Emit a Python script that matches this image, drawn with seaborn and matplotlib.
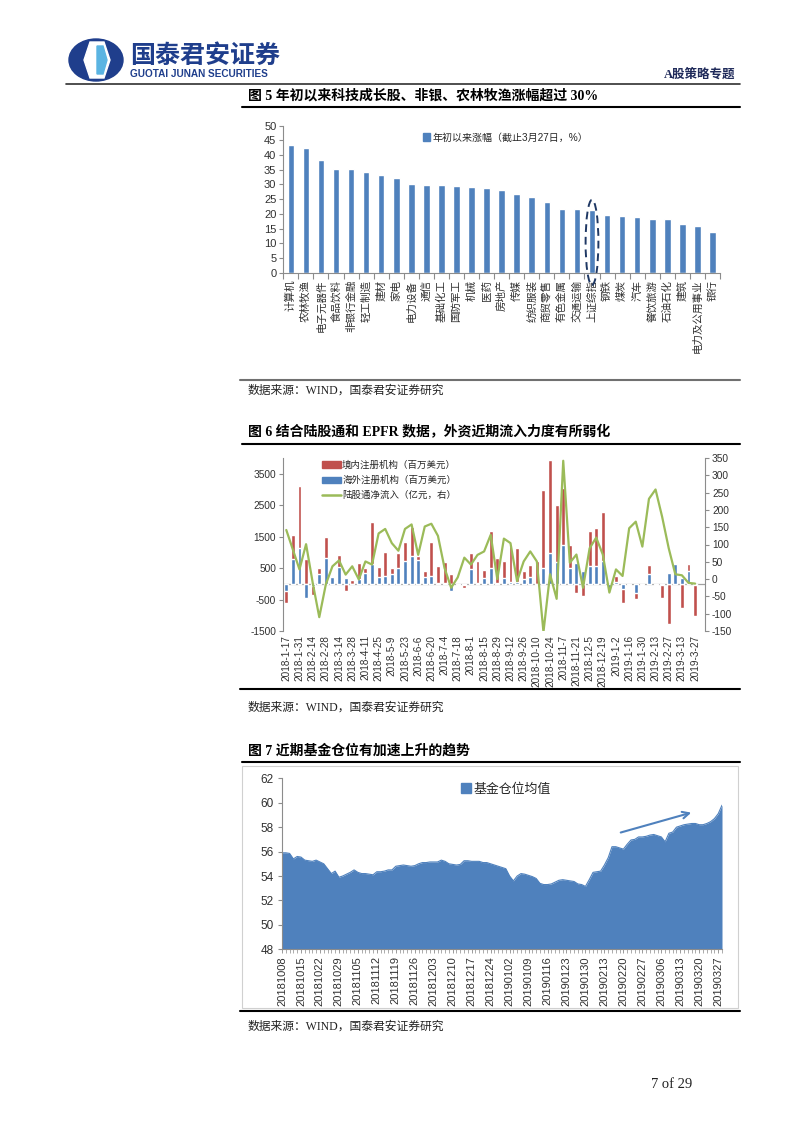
import numpy as np
import pandas as pd
import matplotlib
matplotlib.use('Agg')
import matplotlib.pyplot as plt
import seaborn as sns
from matplotlib.patches import Patch, Ellipse, Rectangle, Polygon
from matplotlib.lines import Line2D

# ---------------- data ----------------
industries = ['计算机', '农林牧渔', '电子元器件', '食品饮料', '非银行金融', '轻工制造', '建材', '家电',
              '电力设备', '通信', '基础化工', '国防军工', '机械', '医药', '房地产', '传媒', '纺织服装',
              '商贸零售', '有色金属', '交通运输', '上证综指', '钢铁', '煤炭', '汽车', '餐饮旅游',
              '石油石化', '建筑', '电力及公用事业', '银行']
ytd_gain = [43.3, 42.5, 38.5, 35.2, 35.2, 34.2, 33.2, 32.2, 30.3, 29.8, 29.8, 29.6, 29.2, 28.9,
            28.0, 26.8, 25.8, 23.9, 21.8, 21.6, 21.2, 19.7, 19.3, 19.1, 18.3, 18.1, 16.5, 15.8, 13.8]

week_labels = ['2018-1-17', '2018-1-31', '2018-2-14', '2018-2-28', '2018-3-14', '2018-3-28',
               '2018-4-11', '2018-4-25', '2018-5-9', '2018-5-23', '2018-6-6', '2018-6-20',
               '2018-7-4', '2018-7-18', '2018-8-1', '2018-8-15', '2018-8-29', '2018-9-12',
               '2018-9-26', '2018-10-10', '2018-10-24', '2018-11-7', '2018-11-21', '2018-12-5',
               '2018-12-19', '2019-1-2', '2019-1-16', '2019-1-30', '2019-2-13', '2019-2-27',
               '2019-3-13', '2019-3-27']
domestic = [-600, 1550, 3100, 780, -350, 500, 1490, 220, 920, -240, 110, 670, 510, 1950, 540, 1020,
            510, 990, 1340, 1810, 900, 400, 1340, 560, 690, 300, -50, -130, 970, 720, 440, 1680,
            830, 720, 1200, 1150, 400, 600, 720, 2980, 3950, 2500, 3060, 1230, -290, -400, 1680,
            1790, 2270, -230, 245, -600, -50, -480, -30, 585, -40, -450, -1280, 620, -770, 620, -1010]
overseas = [-230, 780, 1130, -450, -80, 300, 810, 210, 530, 170, 0, 140, 350, 620, 210, 245,
            320, 510, 720, 880, 750, 210, 245, 30, 20, -230, -20, -30, 460, 30, 190, 510,
            30, 200, 60, 60, 140, 210, -50, 510, 990, 700, 1230, 490, 670, 400, 560,
            560, 720, -230, 60, -150, -20, -300, -20, 300, -40, -30, 350, 620, 190, 400, -30]
northbound = [142, 85, 28, 101, -10, -110, -15, 37, 54, 13, 37, -1, 51, 42, 132, 145, 104, 82,
              145, 158, 70, 152, 160, 125, 32, -25, 5, 62, 42, 70, 80, 128, 0, 117, 104, -6, 51,
              80, 51, -153, 14, -57, 342, 47, 71, -25, 89, 120, 71, -39, 28, 9, 147, 166, 94, 232,
              259, 180, 89, 14, 11, -11, -13]

day_labels = ['20181008', '20181015', '20181022', '20181029', '20181105', '20181112', '20181119',
              '20181126', '20181203', '20181210', '20181217', '20181224', '20190102', '20190109',
              '20190116', '20190123', '20190130', '20190213', '20190220', '20190227', '20190306',
              '20190313', '20190320', '20190327']
fund_position = [55.9, 55.9, 55.85, 55.4, 55.6, 55.55, 55.3, 55.25, 55.2, 55.3, 55.15, 55.0, 54.6,
                 54.2, 54.4, 53.9, 54.0, 54.15, 54.3, 54.5, 54.3, 54.2, 54.2, 54.15, 54.1, 54.35,
                 54.35, 54.4, 54.5, 54.5, 54.8, 54.85, 54.9, 54.85, 54.8, 54.85, 55.0, 55.1, 55.1,
                 55.15, 55.15, 55.15, 55.3, 55.2, 55.0, 54.95, 54.9, 54.95, 55.25, 55.25, 55.2,
                 55.2, 55.2, 55.1, 55.1, 55.0, 54.9, 54.8, 54.7, 54.6, 54.0, 53.6, 54.0, 54.2,
                 54.15, 54.05, 53.95, 53.8, 53.4, 53.3, 53.3, 53.35, 53.5, 53.65, 53.7, 53.65,
                 53.6, 53.55, 53.35, 53.3, 53.15, 53.7, 54.3, 54.35, 54.4, 54.9, 55.5, 56.4, 56.4,
                 56.3, 56.2, 56.6, 56.95, 57.0, 57.2, 57.2, 57.25, 57.35, 57.4, 57.3, 57.2, 56.8,
                 57.5, 57.6, 58.0, 58.1, 58.2, 58.25, 58.3, 58.3, 58.2, 58.2, 58.3, 58.45, 58.7,
                 59.1, 59.8]

# ---------------- styling ----------------
BLUE = '#4F81BD'
RED = '#C0504D'
GREEN = '#9BBB59'
NAVY = '#1F3E8C'
AXC = '#8C8C8C'
TXT = '#303030'

W, H = 802, 1133
sns.set_theme(style='white')
plt.rcParams['font.family'] = ['Liberation Sans', 'Noto Sans CJK SC']
plt.rcParams['axes.unicode_minus'] = False
SERIF = ['Liberation Serif', 'Noto Sans CJK SC']
CJK = ['Noto Sans CJK SC', 'Liberation Sans']

fig = plt.figure(figsize=(W / 100, H / 100), dpi=100)
fig.patch.set_facecolor('white')


def R(x0, y0, x1, y1):
    return [x0 / W, 1 - y1 / H, (x1 - x0) / W, (y1 - y0) / H]


def T(x, y, s, **kw):
    kw.setdefault('va', 'center')
    fig.text(x / W, 1 - y / H, s, **kw)


def HL(x0, x1, y, color='black', lw=1.0):
    fig.add_artist(Line2D([x0 / W, x1 / W], [1 - y / H, 1 - y / H],
                          transform=fig.transFigure, color=color, lw=lw))


def style_axes(ax):
    ax.set_facecolor('none')
    for s in ['top', 'right']:
        ax.spines[s].set_visible(False)
    for s in ['left', 'bottom']:
        ax.spines[s].set_color(AXC)
        ax.spines[s].set_linewidth(0.8)
    ax.set_xlabel('')
    ax.set_ylabel('')


# ---------------- header ----------------
lax = fig.add_axes(R(68, 38, 128, 82))
lax.set_xlim(0, 60)
lax.set_ylim(44, 0)
lax.set_aspect('equal')
lax.axis('off')
lax.add_patch(Ellipse((28, 22), 54, 42, color=NAVY))
lax.add_patch(Polygon([[22, 4], [36, 4], [42, 22], [36, 40], [22, 40], [16, 22]], closed=True, color='white'))
lax.add_patch(Polygon([[29, 8], [35, 8], [39, 22], [35, 36], [29, 36]], closed=True, color='#5AB4E2'))

T(130, 56, '国泰君安证券', fontsize=18, fontweight='bold', color=NAVY, family=CJK, ha='left')
T(130, 74, 'GUOTAI JUNAN SECURITIES', fontsize=7.2, fontweight='bold', color=NAVY,
  family=['Liberation Sans'], ha='left')
T(735, 75, 'A股策略专题', fontsize=9, fontweight='bold', color='#1F2A5A', family=SERIF, ha='right')
HL(66, 740, 84, color='#303030', lw=1.2)

# ---------------- figure 5 ----------------
T(248, 96, '图 5 年初以来科技成长股、非银、农林牧渔涨幅超过 30%', fontsize=10, fontweight='bold',
  family=SERIF, ha='left', color='black')
HL(242, 740, 107, lw=1.5)

ax1 = fig.add_axes(R(283.3, 125.7, 720, 272.7))
df1 = pd.DataFrame({'industry': industries, 'gain': ytd_gain})
sns.barplot(data=df1, x='industry', y='gain', color=BLUE, saturation=1, width=0.44, ax=ax1)
style_axes(ax1)
ax1.set_xlim(-0.5, len(industries) - 0.5)
ax1.set_ylim(0, 50)
ax1.set_yticks(range(0, 51, 5))
ax1.set_xticks(range(len(industries)))
ax1.set_xticklabels(industries, rotation=90, fontsize=7.6, family=CJK, color=TXT)
ax1.set_xticks(np.arange(-0.5, len(industries), 1), minor=True)
ax1.tick_params(axis='x', which='major', length=0, pad=5)
ax1.tick_params(axis='x', which='minor', length=4, color=AXC, width=0.8, direction='out', bottom=True)
ax1.tick_params(axis='y', length=3, color=AXC, width=0.8, direction='out', left=True, labelsize=8,
                labelcolor=TXT, pad=2)
ax1.legend(handles=[Patch(color=BLUE, label='年初以来涨幅（截止3月27日，%）')], loc='upper left',
           bbox_to_anchor=(0.32, 0.955), frameon=False, fontsize=7.2, handlelength=0.7,
           handleheight=0.9, handletextpad=0.2, borderaxespad=0, borderpad=0)
ax1.add_patch(Ellipse((20, 10.3), 0.85, 29, fill=False, ls=(0, (4, 2.5)), ec='#1F3864', lw=1.4,
                      clip_on=False))

HL(240, 740, 380, color='#707070', lw=1.5)
T(248, 391, '数据来源：WIND，国泰君安证券研究', fontsize=8.5, family=SERIF, ha='left', color='#222222')

# ---------------- figure 6 ----------------
T(248, 432, '图 6 结合陆股通和 EPFR 数据，外资近期流入力度有所弱化', fontsize=10, fontweight='bold',
  family=SERIF, ha='left', color='black')
HL(242, 740, 444, lw=1.5)

n_w = len(northbound)
week_idx = [f'w{i:02d}' for i in range(n_w)]
df2 = pd.DataFrame({'week': week_idx, 'domestic': domestic, 'overseas': overseas,
                    'northbound': northbound, 'pos': np.arange(n_w)})
ax2 = fig.add_axes(R(283, 458, 705, 631))
ax2.axhline(0, color='#A0A0A0', lw=0.9, zorder=0)
sns.barplot(data=df2, x='week', y='domestic', color=RED, saturation=1, width=0.6, ax=ax2)
sns.barplot(data=df2, x='week', y='overseas', color=BLUE, saturation=1, width=0.6, ax=ax2)
ax2b = ax2.twinx()
sns.lineplot(data=df2, x='pos', y='northbound', color=GREEN, lw=1.6, ax=ax2b)
style_axes(ax2)
ax2.spines['bottom'].set_visible(False)
ax2b.set_xlabel('')
ax2b.set_ylabel('')
for s in ['top', 'left', 'bottom']:
    ax2b.spines[s].set_visible(False)
ax2b.spines['right'].set_color(AXC)
ax2b.spines['right'].set_linewidth(0.8)
ax2.set_ylim(-1500, 4000)
ax2.set_yticks([-1500, -500, 500, 1500, 2500, 3500])
ax2b.set_ylim(-150, 350)
ax2b.set_yticks(range(-150, 351, 50))
ax2.set_xticks(range(0, n_w, 2))
ax2.set_xticklabels(week_labels, rotation=90, fontsize=7.2, color=TXT)
ax2.set_xlim(-0.5, n_w + 0.5)
ax2b.set_xlim(-0.5, n_w + 0.5)
ax2.tick_params(axis='x', length=0, pad=3)
ax2.tick_params(axis='y', length=3, color=AXC, width=0.8, direction='out', left=True, labelsize=7.3,
                labelcolor=TXT, pad=2)
ax2b.tick_params(axis='y', length=3, color=AXC, width=0.8, direction='out', right=True,
                 labelsize=7.3, labelcolor=TXT, pad=2)
ax2b.legend(handles=[Patch(color=RED, label='境内注册机构（百万美元）'),
                     Patch(color=BLUE, label='海外注册机构（百万美元）'),
                     Line2D([], [], color=GREEN, lw=1.8, label='陆股通净流入（亿元，右）')],
            loc='upper left', bbox_to_anchor=(0.092, 0.985), frameon=False, fontsize=6.8,
            handlelength=2.0, handleheight=0.65, handletextpad=0.15, labelspacing=0.62,
            borderaxespad=0, borderpad=0, prop={'family': CJK, 'size': 6.8})

HL(240, 740, 689, lw=1.5)
T(248, 708, '数据来源：WIND，国泰君安证券研究', fontsize=8.5, family=SERIF, ha='left', color='#222222')

# ---------------- figure 7 ----------------
T(248, 751, '图 7 近期基金仓位有加速上升的趋势', fontsize=10, fontweight='bold',
  family=SERIF, ha='left', color='black')
HL(242, 740, 762, lw=1.5)
fig.add_artist(Rectangle((242 / W, 1 - 1008 / H), (738 - 242) / W, (1008 - 766) / H,
                         transform=fig.transFigure, fill=False, ec='#D0D0D0', lw=0.8))

n_d = len(fund_position)
df3 = pd.DataFrame({'day': np.arange(n_d), 'pos': fund_position})
ax3 = fig.add_axes(R(282, 778.3, 722, 949.3))
ax3.fill_between(df3['day'], 48, df3['pos'], color=BLUE, lw=0)
sns.lineplot(data=df3, x='day', y='pos', color=BLUE, lw=0.8, ax=ax3)
style_axes(ax3)
ax3.set_xlim(0, n_d - 1)
ax3.set_ylim(48, 62)
ax3.set_yticks(range(48, 63, 2))
ax3.set_xticks(range(0, 5 * len(day_labels), 5))
ax3.set_xticklabels(day_labels, rotation=90, fontsize=8, color=TXT)
ax3.set_xticks(range(n_d), minor=True)
ax3.tick_params(axis='x', which='major', length=3, color=AXC, width=0.6, direction='out', bottom=True, pad=2)
ax3.tick_params(axis='x', which='minor', length=3, color=AXC, width=0.5, direction='out', bottom=True)
ax3.tick_params(axis='y', length=3, color=AXC, width=0.8, direction='out', left=True, labelsize=8.5,
                labelcolor=TXT, pad=3)
ax3.legend(handles=[Patch(color=BLUE, label='基金仓位均值')], loc='upper left',
           bbox_to_anchor=(0.407, 0.975), frameon=False, handlelength=0.75, handleheight=0.75,
           handletextpad=0.25, borderaxespad=0, borderpad=0, prop={'family': CJK, 'size': 9.3})
ax3.annotate('', xy=(108.6, 59.25), xytext=(88.6, 57.5),
             arrowprops=dict(arrowstyle='->', color=BLUE, lw=1.5, mutation_scale=12))

HL(240, 740, 1011, lw=1.5)
T(248, 1027, '数据来源：WIND，国泰君安证券研究', fontsize=8.5, family=SERIF, ha='left', color='#222222')

T(692, 1085, '7 of 29', fontsize=10.5, family=SERIF, ha='right', color='#222222')

fig.savefig('out.png', dpi=100, facecolor='white')
